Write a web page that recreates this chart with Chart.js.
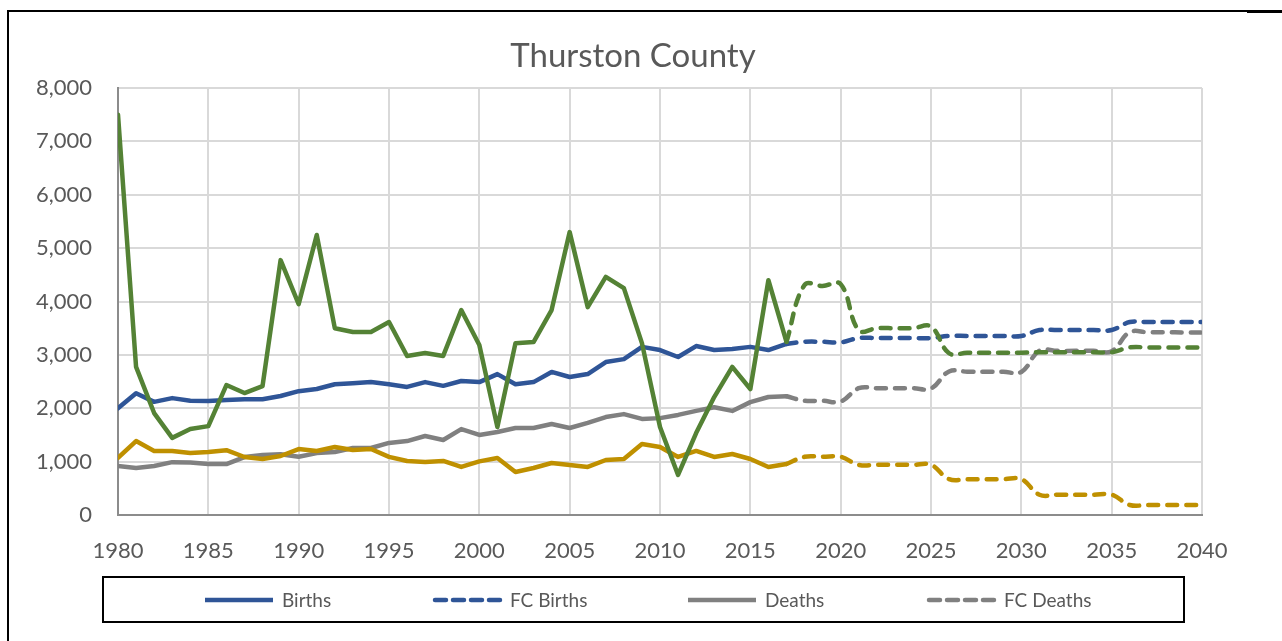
<!DOCTYPE html>
<html>
<head>
<meta charset="utf-8">
<script src="https://cdn.jsdelivr.net/npm/chart.js@4.4.1/dist/chart.umd.min.js"></script>
<style>
  html, body { margin: 0; padding: 0; background: #ffffff; }
  canvas { display: block; }
</style>
</head>
<body>
<canvas id="c" width="1282" height="641"></canvas>
<script>
// ---- Data ----
const years = [1980,1981,1982,1983,1984,1985,1986,1987,1988,1989,
               1990,1991,1992,1993,1994,1995,1996,1997,1998,1999,
               2000,2001,2002,2003,2004,2005,2006,2007,2008,2009,
               2010,2011,2012,2013,2014,2015,2016,2017];
const births = [2000,2280,2120,2190,2140,2135,2155,2170,2170,2230,
                2320,2360,2450,2470,2490,2450,2400,2490,2420,2510,
                2490,2640,2450,2490,2680,2585,2640,2865,2920,3150,
                3090,2960,3165,3090,3110,3150,3090,3205];
const deaths = [918,880,918,990,985,955,955,1085,1125,1140,
                1090,1160,1180,1255,1255,1350,1385,1480,1405,1610,
                1500,1555,1630,1630,1705,1630,1725,1835,1890,1800,
                1815,1875,1950,2020,1950,2115,2210,2225];
const naturalIncrease = [1070,1385,1200,1200,1160,1180,1215,1087,1050,1105,
                         1235,1200,1275,1218,1236,1090,1012,995,1012,900,
                         1005,1068,806,880,975,937,900,1030,1050,1330,
                         1275,1087,1200,1087,1143,1050,900,955];
const netMigration = [7500,2775,1910,1445,1610,1665,2435,2285,2415,4775,
                      3950,5245,3500,3430,3430,3615,2980,3035,2980,3840,
                      3185,1650,3220,3240,3840,5300,3895,4460,4250,3220,
                      1650,750,1535,2210,2775,2360,4400,3245];

const fcYears = [2017,2018,2019,2020,2021,2022,2023,2024,2025,2026,2027,2028,
                 2029,2030,2031,2032,2033,2034,2035,2036,2037,2038,2039,2040];
const fcBirths = [3205,3245,3245,3235,3315,3315,3315,3315,3315,3355,3355,3355,
                  3355,3355,3465,3465,3465,3465,3465,3615,3615,3615,3615,3615];
const fcDeaths = [2225,2140,2140,2125,2375,2375,2375,2375,2370,2690,2685,2685,
                  2685,2680,3080,3075,3075,3075,3070,3425,3425,3425,3420,3420];
const fcNaturalIncrease = [955,1090,1090,1090,940,940,940,940,940,672,672,672,
                           672,672,380,380,380,380,380,188,188,188,188,188];
const fcNetMigration = [3245,4310,4290,4325,3460,3500,3500,3500,3530,3030,3040,3040,
                        3040,3040,3050,3050,3050,3050,3050,3140,3140,3140,3140,3140];

const xTicks = [1980,1985,1990,1995,2000,2005,2010,2015,2020,2025,2030,2035,2040];
const yTicks = [0,1000,2000,3000,4000,5000,6000,7000,8000];
const legendLabels = ['Births','FC Births','Deaths','FC Deaths'];

// ---- Styles ----
const BLUE = '#2F5597', GRAY = '#808080', GREEN = '#548235', GOLD = '#BF9000';
const TEXT = '#595959';
const FONT = 'Lato, "Open Sans", sans-serif';
const DASH = [10, 9];

const pts = (xs, ys) => xs.map((x, i) => ({x: x, y: ys[i]}));

function solid(label, color, xs, ys, order) {
  return {label, data: pts(xs, ys), borderColor: color, backgroundColor: color,
          borderWidth: 4.5, pointRadius: 0, tension: 0, borderCapStyle: 'round',
          borderJoinStyle: 'round', order, fill: false};
}
function dashed(label, color, xs, ys, order) {
  return {label, data: pts(xs, ys), borderColor: color, backgroundColor: color,
          borderWidth: 4.5, pointRadius: 0, tension: 0.4, borderDash: DASH,
          borderCapStyle: 'round', borderJoinStyle: 'round', order, fill: false};
}

const datasets = [
  solid('Births', BLUE, years, births, 3),
  dashed('FC Births', BLUE, fcYears, fcBirths, 3),
  solid('Deaths', GRAY, years, deaths, 2),
  dashed('FC Deaths', GRAY, fcYears, fcDeaths, 2),
  solid('Natural Increase', GOLD, years, naturalIncrease, 1),
  dashed('FC Natural Increase', GOLD, fcYears, fcNaturalIncrease, 1),
  solid('Net Migration', GREEN, years, netMigration, 0),
  dashed('FC Net Migration', GREEN, fcYears, fcNetMigration, 0)
];

// widen the y scale's label area to the canvas edge so labels are not clipped
const labelAreaPlugin = {
  id: 'labelArea',
  afterLayout(chart) {
    const y = chart.scales.y;
    y.left = 0;
    y.width = y.right;
  }
};

// Outer frame + boxed legend
const framePlugin = {
  id: 'frameAndLegend',
  afterDraw(chart) {
    const ctx = chart.ctx;
    ctx.save();
    ctx.fillStyle = '#000000';
    ctx.fillRect(7, 10, 1275, 2);
    ctx.fillRect(1247, 10, 35, 3);
    ctx.fillRect(7, 10, 2, 631);

    // legend box
    ctx.strokeStyle = '#000000';
    ctx.lineWidth = 2;
    ctx.strokeRect(103, 577, 1081, 45);

    const starts = [205, 433, 688, 927];
    const cy = 600;
    const sampleLen = 68;
    ctx.font = '19px ' + FONT;
    ctx.textBaseline = 'middle';
    ctx.textAlign = 'left';
    legendLabels.forEach((lab, i) => {
      const ds = chart.data.datasets.find(d => d.label === lab);
      const x0 = starts[i];
      ctx.beginPath();
      ctx.strokeStyle = ds.borderColor;
      ctx.lineWidth = 4.5;
      ctx.lineCap = ds.borderDash ? 'round' : 'butt';
      ctx.setLineDash(ds.borderDash ? [11, 7] : []);
      ctx.moveTo(x0 + (ds.borderDash ? 2 : 0), cy);
      ctx.lineTo(x0 + sampleLen, cy);
      ctx.stroke();
      ctx.setLineDash([]);
      ctx.fillStyle = TEXT;
      ctx.fillText(lab, x0 + sampleLen + 9, cy + 1);
    });
    ctx.restore();
  }
};

new Chart(document.getElementById('c'), {
  type: 'line',
  data: { datasets },
  options: {
    responsive: false,
    animation: false,
    devicePixelRatio: 1,
    layout: { padding: { top: 10, left: 64, right: 80, bottom: 0 } },
    plugins: {
      legend: { display: false },
      tooltip: { enabled: false },
      title: {
        display: true,
        text: 'Thurston County',
        color: TEXT,
        font: { family: FONT, size: 33, weight: 'normal' },
        padding: { top: 27, bottom: 11.4 }
      }
    },
    scales: {
      x: {
        type: 'linear',
        min: 1980, max: 2040,
        afterBuildTicks: (s) => { s.ticks = xTicks.map(v => ({value: v})); },
        afterFit: (s) => { s.height = 126; },
        ticks: {
          color: TEXT, padding: 23, maxRotation: 0, autoSkip: false,
          font: { family: FONT, size: 22 },
          callback: (v) => String(v)
        },
        grid: { color: '#D9D9D9', lineWidth: 2, drawTicks: false },
        border: { color: '#8C8C8C', width: 2 }
      },
      y: {
        min: 0, max: 8000,
        afterBuildTicks: (s) => { s.ticks = yTicks.map(v => ({value: v})); },
        afterFit: (s) => { s.width = 54; },
        ticks: {
          color: TEXT, padding: 26,
          font: { family: FONT, size: 22 },
          callback: (v) => Number(v).toLocaleString('en-US')
        },
        grid: { color: '#D9D9D9', lineWidth: 2, drawTicks: false },
        border: { color: '#8C8C8C', width: 2 }
      }
    }
  },
  plugins: [labelAreaPlugin, framePlugin]
});
</script>
</body>
</html>
